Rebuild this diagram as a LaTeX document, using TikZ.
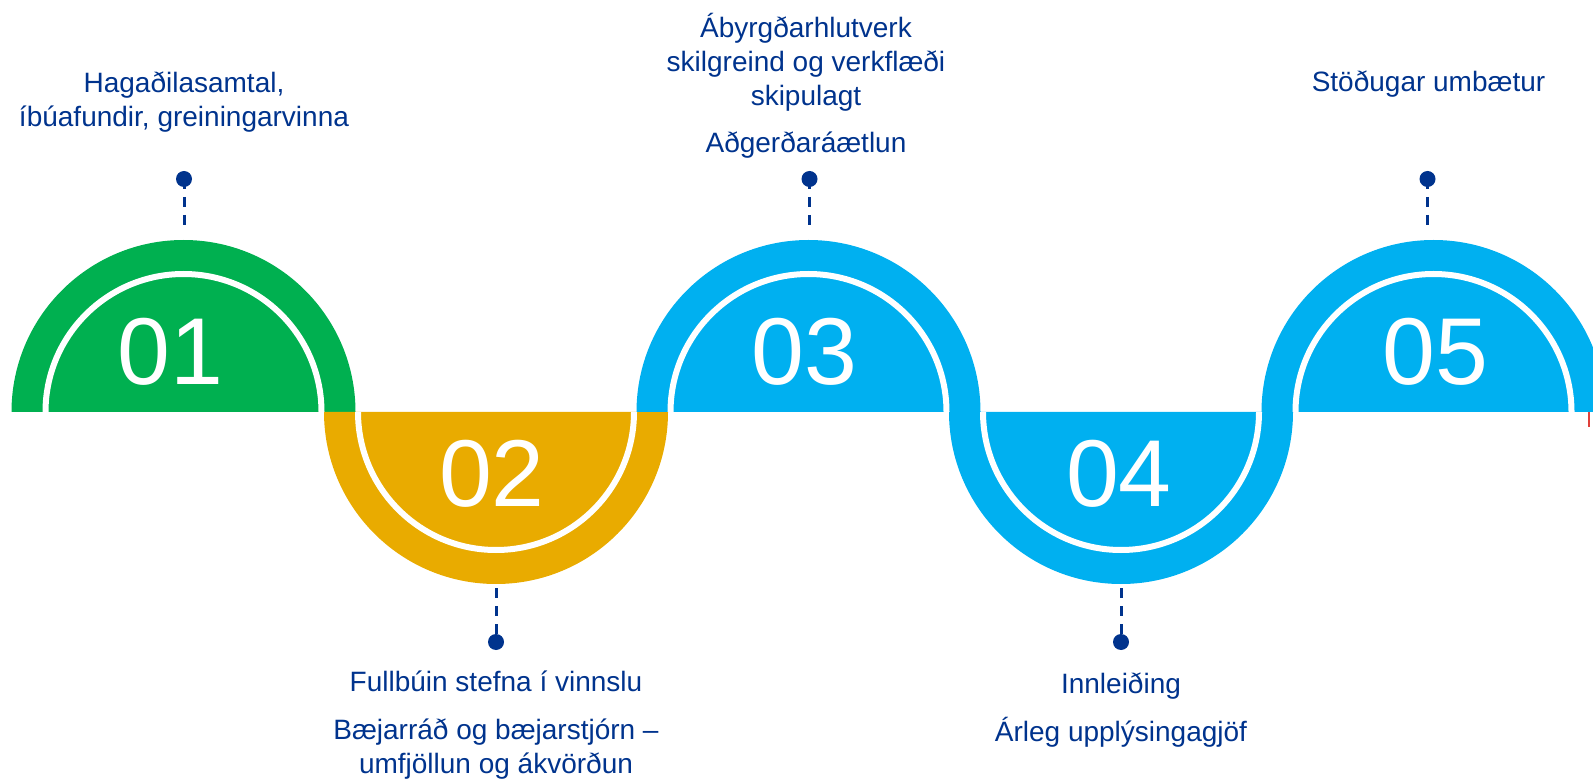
\documentclass[tikz,border=0pt]{standalone}
\usepackage{fontspec}
\setmainfont{Liberation Sans}
\definecolor{grnstep}{HTML}{00B050}
\definecolor{goldstep}{HTML}{E9AB00}
\definecolor{cyanstep}{HTML}{00B0F0}
\definecolor{navytxt}{HTML}{00338D}
\definecolor{tickred}{HTML}{E0403A}
\tikzset{
  numlabel/.style={anchor=base, inner sep=0pt, text=white, font=\fontsize{95}{95}\selectfont},
  steplabel/.style={anchor=base, inner sep=0pt, align=center, text=navytxt, font=\fontsize{28}{34}\selectfont},
  pindot/.style={circle, fill=navytxt, inner sep=0pt, minimum size=16pt},
  pinline/.style={navytxt, line width=3pt, dash pattern=on 10pt off 8pt},
  ringline/.style={white, line width=6pt},
}

\begin{document}
\begin{tikzpicture}[x=1pt, y=1pt] % {{{
\clip (0,0) rectangle (1593,780);
\pgfmathsetmacro{\unitstep}{312.5}
\begin{scope}[shift={(183.5,368)}]
\begin{scope}[shift={(0*\unitstep,0)}] % 01 green, up {{{
\fill[grnstep] (-172,0) arc[start angle=180, end angle=0, radius=172] -- cycle;
\draw[ringline] (-138,0) arc[start angle=180, end angle=0, radius=138];
\node[numlabel] (num1) at (-13,27) {01};
\node[pindot] (pin1) at (0.5,233) {};
\coordinate (stem1) at (0.5,185);
\draw[pinline] (pin1.center) -- (stem1);
% base = last line
\node[steplabel] (txt1) at (0.5,285) {Hagaðilasamtal,\\íbúafundir, greiningarvinna};
\end{scope} % }}}
\begin{scope}[shift={(1*\unitstep,0)}] % 02 gold, down {{{
\fill[goldstep] (-172,0) arc[start angle=180, end angle=360, radius=172] -- cycle;
\draw[ringline] (-138,0) arc[start angle=180, end angle=360, radius=138];
\node[numlabel] (num2) at (-4,-95) {02};
\coordinate (stem2) at (0,-176);
\node[pindot] (pin2) at (0,-230) {};
\draw[pinline] (stem2) -- (pin2.center);
\node[steplabel] (txt2) at (0,-361) {Fullbúin stefna í vinnslu\\[14pt]Bæjarráð og bæjarstjórn –\\umfjöllun og ákvörðun};
\end{scope} % }}}
\begin{scope}[shift={(2*\unitstep,0)}] % 03 cyan, up {{{
\fill[cyanstep] (-172,0) arc[start angle=180, end angle=0, radius=172] -- cycle;
\draw[ringline] (-138,0) arc[start angle=180, end angle=0, radius=138];
\node[numlabel] (num3) at (-4,27) {03};
\node[pindot] (pin3) at (1,233) {};
\coordinate (stem3) at (1,185);
\draw[pinline] (pin3.center) -- (stem3);
\node[steplabel] (txt3) at (-2.5,259) {Ábyrgðarhlutverk\\skilgreind og verkflæði\\skipulagt\\[13pt]Aðgerðaráætlun};
\end{scope} % }}}
\begin{scope}[shift={(3*\unitstep,0)}] % 04 cyan, down {{{
\fill[cyanstep] (-172,0) arc[start angle=180, end angle=360, radius=172] -- cycle;
\draw[ringline] (-138,0) arc[start angle=180, end angle=360, radius=138];
\node[numlabel] (num4) at (-2,-95) {04};
\coordinate (stem4) at (0,-176);
\node[pindot] (pin4) at (0,-230) {};
\draw[pinline] (stem4) -- (pin4.center);
\node[steplabel] (txt4) at (0,-329) {Innleiðing\\[14pt]Árleg upplýsingagjöf};
\end{scope} % }}}
\begin{scope}[shift={(4*\unitstep,0)}] % 05 cyan, up {{{
\fill[cyanstep] (-172,0) arc[start angle=180, end angle=0, radius=172] -- cycle;
\draw[ringline] (-138,0) arc[start angle=180, end angle=0, radius=138];
\node[numlabel] (num5) at (2,27) {05};
\node[pindot] (pin5) at (-6,233) {};
\coordinate (stem5) at (-6,185);
\draw[pinline] (pin5.center) -- (stem5);
\node[steplabel] (txt5) at (-5,320) {Stöðugar umbætur};
\end{scope} % }}}
\end{scope}
\draw[tickred, line width=1.5pt] (1589,368) -- (1589,353);
\end{tikzpicture} % }}}
\end{document}
